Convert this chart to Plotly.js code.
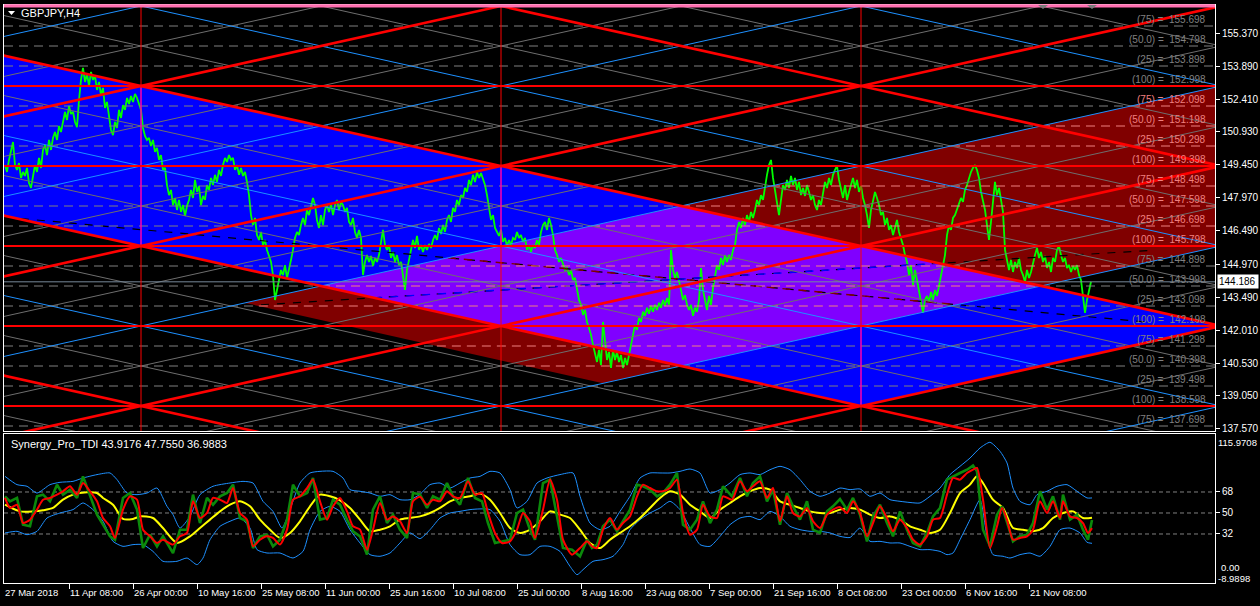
<!DOCTYPE html>
<html><head><meta charset="utf-8">
<script src="https://cdn.plot.ly/plotly-3.0.1.min.js"></script>
<style>html,body{margin:0;padding:0;background:#000;}#chart{width:1260px;height:606px;}</style>
</head><body><div id="chart"></div>
<script>
// ================= DATA =================
const symbolTitle = 'GBPJPY,H4';
const indicatorTitle = 'Synergy_Pro_TDI 43.9176 47.7550 36.9883';

const timeTickBars = [64,128,192,256,320,384,448,512,576,640,704,768,832,896,960,1024];
const timeFirstLabel = '27 Mar 2018';
const timeTickLabels = ['11 Apr 08:00','26 Apr 00:00','10 May 16:00','25 May 08:00','11 Jun 00:00','25 Jun 16:00','10 Jul 08:00','25 Jul 00:00','8 Aug 16:00','23 Aug 08:00','7 Sep 00:00','21 Sep 16:00','8 Oct 08:00','23 Oct 00:00','6 Nov 16:00','21 Nov 08:00'];

const priceTickVals = [137.570,139.050,140.530,142.010,143.490,144.970,146.490,147.970,149.450,150.930,152.410,153.890,155.370];
const bidPrice = 144.186;

// price path (one reading every 2 bars)
const priceStartBar = 0, priceStepBars = 2;
const priceClose = [
149.44,149.13,149.67,150.12,150.48,149.44,149.22,149.53,148.86,149.13,
148.95,149.31,148.63,148.41,148.95,149.44,149.13,149.76,149.31,150.12,
150.34,149.89,150.57,150.12,150.66,150.93,150.57,151.20,150.93,151.47,
151.83,151.47,152.10,151.74,151.83,151.38,151.15,152.37,153.27,153.81,
153.18,153.54,153.00,153.63,153.27,153.45,152.82,153.18,152.59,152.91,
152.01,152.28,151.56,151.02,150.79,151.38,151.11,151.92,151.56,152.14,
151.92,152.46,152.19,152.55,152.28,152.64,152.46,152.19,151.92,151.11,
150.75,150.57,150.66,150.30,150.57,150.03,150.21,149.67,149.89,149.22,
149.31,148.54,148.09,148.32,147.64,147.96,147.42,147.87,147.33,147.64,
147.15,147.60,147.87,148.32,147.96,148.77,148.23,148.50,147.64,148.05,
147.87,148.54,148.32,148.86,148.54,149.00,148.68,149.22,148.95,149.44,
149.76,149.58,149.89,149.67,149.76,149.22,149.44,149.00,149.31,148.95,
149.13,148.68,148.09,147.19,146.74,147.06,146.29,146.07,146.43,145.84,
146.07,145.62,145.39,145.08,144.49,143.37,143.82,144.27,144.72,144.49,
144.94,144.36,144.72,145.17,145.62,146.16,146.43,146.29,146.74,147.06,
146.74,147.42,147.19,147.64,147.96,147.64,146.97,146.61,147.19,146.74,
147.42,147.64,147.33,147.69,147.19,147.64,147.87,147.42,147.78,147.64,
147.33,147.51,146.88,146.74,147.06,146.43,146.16,146.52,146.16,144.49,
145.08,145.39,145.08,145.35,144.90,145.26,145.08,145.39,146.07,146.52,
145.84,145.62,145.84,145.26,145.53,145.08,145.39,144.94,145.08,144.49,
143.82,144.72,145.26,145.62,146.07,145.71,146.25,145.62,145.84,145.53,
145.84,145.62,145.89,145.71,146.07,146.29,146.07,146.61,146.34,146.74,
146.43,146.97,147.19,146.88,147.51,147.33,147.87,147.64,148.09,147.96,
148.41,148.23,148.77,148.54,149.00,148.68,149.13,148.86,149.08,148.77,
148.54,148.09,147.51,146.97,147.19,146.61,146.43,146.25,146.52,145.98,
146.16,145.80,146.07,145.84,146.16,146.07,146.43,146.16,146.29,145.98,
146.16,145.62,145.84,145.53,145.84,145.71,146.07,145.84,146.43,146.74,
146.88,146.52,147.06,146.74,146.29,145.62,145.39,145.08,145.26,144.94,
144.72,144.81,144.49,144.72,144.27,144.36,143.82,143.37,143.15,142.70,
142.92,142.38,142.11,141.80,141.35,140.89,140.58,141.12,140.44,142.38,
141.35,140.67,141.03,140.31,141.12,140.67,141.03,140.58,140.89,140.31,
140.76,140.44,140.89,141.35,141.80,142.25,142.02,142.56,142.38,142.84,
142.66,143.02,142.75,143.11,142.84,143.15,142.92,143.24,143.02,143.37,
143.11,143.46,143.15,145.62,144.72,144.36,144.63,144.13,143.82,143.37,
143.59,143.15,142.92,143.15,142.66,143.02,142.84,143.37,144.81,143.82,
143.37,142.92,143.55,143.15,143.91,144.49,144.94,144.72,145.26,144.94,
145.39,145.08,145.39,145.17,145.62,145.84,146.52,146.88,146.61,147.06,
146.74,147.19,146.88,147.33,147.06,147.42,147.87,147.64,148.09,147.87,
148.54,149.00,149.44,149.67,148.86,148.32,147.64,147.19,147.87,148.54,
148.32,148.77,148.41,148.95,148.54,148.86,148.32,148.68,148.09,148.41,
148.05,148.54,148.23,147.87,148.09,147.64,147.42,147.87,147.64,148.09,
148.68,148.41,148.86,148.54,149.00,149.22,149.40,148.77,148.32,147.96,
148.54,147.87,148.23,148.54,148.86,148.41,148.77,148.23,148.50,147.96,
147.64,147.19,146.61,147.42,147.87,148.23,147.96,147.64,147.19,147.33,
146.74,147.06,146.52,146.74,146.29,146.61,146.97,146.43,146.16,145.84,
145.39,145.08,144.49,144.94,144.04,144.72,144.27,143.82,143.37,142.79,
143.37,143.55,143.28,143.73,143.37,143.82,143.55,144.04,144.49,144.94,
145.39,146.29,146.74,146.52,147.06,147.19,147.42,147.64,147.96,147.78,
148.32,148.54,148.86,149.13,149.31,149.44,149.22,148.86,148.23,147.87,
147.42,146.74,146.07,146.88,147.87,148.68,148.09,148.41,147.87,147.33,
145.62,145.08,144.72,145.17,144.63,145.08,144.81,145.26,144.72,144.49,
144.18,144.72,144.36,144.63,145.08,145.39,145.71,145.26,145.53,145.08,
145.35,144.81,145.08,144.63,145.26,145.08,145.62,145.80,145.39,145.08,
145.26,144.81,144.94,144.63,144.90,144.72,144.94,144.49,144.27,143.59,
142.79,143.37,143.82,144.19];

// Gann levels (price, tag)
const levelPrices = [155.698,154.798,153.898,152.998,152.098,151.198,150.298,149.398,148.498,147.598,146.698,145.798,144.898,143.998,143.098,142.198,141.298,140.398,139.498,138.598,137.698];
const levelTags   = ['(75)','(50.0)','(25)','(100)','(75)','(50.0)','(25)','(100)','(75)','(50.0)','(25)','(100)','(75)','(50.0)','(25)','(100)','(75)','(50.0)','(25)','(100)','(75)'];

// Gann lattice (drawing object parameters)
const latticeAnchorBar = 136, latticeAnchorPrice = 152.998, latticeSlope = 0.01, latticeStep = 1.8;
const vertLineBars = [136, 496, 856];

// filled zones
const blueZoneBars = [-1, 1216, 856, -1];
const blueZonePrices = [154.368, 142.198, 138.598, 147.168];
const maroonZoneBars = [240, 1240, 1240, 598];
const maroonZonePrices = [143.238, 153.238, 146.038, 139.618];

// dashed trend lines (start bar, start price, end bar, end price)
const trendA = [0, 147.10, 1140, 142.38];
const trendB = [240, 143.11, 1145, 145.60];

// small markers at the top edge (bar positions)
const topMarkerBars = [1038, 1087];

// TDI indicator
const tdiRedBar = [0,5,12,18,25,32,38,45,52,58,65,72,78,85,92,98,105,110,118,125,132,138,145,152,158,168,175,182,188,195,202,208,215,222,228,235,242,248,255,262,268,275,282,288,295,302,308,315,322,328,335,342,348,355,362,368,375,382,388,395,402,408,415,422,428,435,442,448,455,463,470,477,483,490,497,505,512,518,525,530,538,545,552,558,567,575,582,587,592,598,605,612,618,625,632,638,645,652,658,665,672,678,685,692,698,705,712,718,727,735,742,748,755,762,768,775,782,788,795,802,808,815,822,828,835,842,848,855,862,868,875,882,888,895,902,908,915,922,928,935,942,948,955,962,968,972,978,985,992,997,1002,1008,1015,1022,1028,1035,1042,1048,1055,1058,1065,1072,1078,1083,1087];
const tdiRedVal = [62.9,54.3,57.1,41.4,44.3,52.9,61.4,62.9,65.7,68.6,72.9,65.7,75.7,68.6,60,45.7,38.6,28.6,52.9,64.3,61.4,35.7,30,24.3,27.1,22.9,30,32.9,60,45.7,50,62.9,61.4,58.6,71.4,50,44.3,21.4,27.1,30,28.6,22.9,35.7,61.4,64.3,71.4,78.6,60,44.3,55.7,62.9,51.4,38.6,35.7,18.6,35.7,58.6,44.3,47.1,42.9,32.9,60,64,57.1,61.4,60,68.6,64.3,62.9,77.1,65.7,67.1,50,32.9,24.3,25.7,35.7,50,42.9,28.6,52.9,78.6,61.4,27.1,14.3,20,25.7,21.4,20,35.7,45.7,35.7,41.4,47.1,64.3,74.3,71.4,68.6,68.6,71.4,78.6,50,31.4,35.7,57.1,47.1,45.7,64.3,61.4,77.1,68.6,72.9,77.1,62.9,71.4,42.9,64.3,50,47.1,54.3,42.9,37.1,48.6,52.9,55,50,60,50,30,41.4,55.7,45.7,34.3,44.3,37.1,27.1,22.9,30,44.3,45.7,65.7,80,78.6,84.3,87.1,88.6,61.4,20,38.6,54.3,44.3,27.1,28.6,30,35.7,60,50,60,45.7,60,47.1,45.7,41.4,32.9,37.0];
const tdiGreenVal = [64.3,60,62.9,40,38.6,64.3,65.7,60,74.3,65.7,70,62.9,81.4,64.3,48.6,40,30,27.1,62.9,67.1,52.9,20,31.4,21.4,30,15.7,35.7,35.7,65.7,41.4,62.9,57.1,64.3,67.1,74.3,45.7,42.9,20,30,31.4,21.4,27.1,44.3,74.3,64.3,67.1,80,44.3,45.7,61.4,57.1,44.3,34.3,30,14.3,52.9,64.3,41.4,48.6,35.7,28.6,67.1,66,54.3,64.3,61.4,75.7,64.3,57.1,80,62.9,60,41.4,24.3,25.7,27.1,50,52.9,35.7,27.1,75.7,78.6,47.1,20,18.6,12.9,27.1,20,22.9,38.6,44.3,34.3,42.9,52.9,74.3,72.9,70,64.3,67.1,74.3,84.3,40,35.7,44.3,60,41.4,52.9,72.9,64.3,80,64.3,75.7,81.4,60,70,40,67.1,55.7,44.3,60,35.7,32.9,51.4,55.7,62,52.9,62.9,48.6,25.7,47.1,57.1,41.4,30,51.4,35.7,24.3,21.4,32.9,47.1,54.3,78.6,81.4,84.3,87.1,90.6,85.7,35.7,21.4,48.6,55.7,41.4,25.7,30,31.4,41.4,68.6,52.9,64.3,44.3,65.7,44.3,48.6,35.7,27.1,43.9];
const tdiYellowBar = [0,15,28,38,48,58,68,82,92,98,108,118,128,135,148,158,172,185,195,205,215,225,235,245,255,265,275,285,295,305,315,325,335,345,355,365,375,385,395,405,415,425,435,445,455,465,475,485,495,505,515,525,535,545,555,565,575,585,595,605,615,625,635,645,655,665,675,685,695,705,715,725,735,745,755,765,775,785,795,805,815,825,835,845,855,865,875,885,895,905,915,925,935,945,955,965,972,978,988,998,1008,1018,1028,1038,1048,1058,1068,1078,1087];
const tdiYellowVal = [57.1,51.4,51.4,52.3,54.3,61.4,65.7,67.7,67.1,62.9,57.1,44.9,44.9,47.1,45.7,37.1,24.3,30,37.1,44.3,51.4,57.1,60,55.7,44.3,35.7,28.6,32.9,42.9,55.7,65.7,64.3,60.9,54.3,44.3,34.3,35.7,38.6,44.3,45.7,47.1,50,54.3,60,62.9,64.3,66.6,61.4,50,37.1,32.9,35.7,42.9,51.4,48.6,45.7,35.7,24.3,20,27.1,32.9,38.6,45.7,54.3,62.9,68.6,65.7,57.1,51.4,45.7,52.9,58.6,64.3,68.6,71.4,70,60,57.1,54.3,51.4,50,50,52.9,54.3,52.9,48.6,45.7,47.1,44.3,38.6,35.7,32.9,35.7,50,67.1,74.3,81.4,75.7,61.4,54.3,37.1,35.7,34.3,37.1,45.7,50,51.4,45.7,46];
const tdiUpperBar = [0,12,22,32,45,55,68,78,92,105,112,122,132,142,152,162,168,175,185,195,208,225,238,248,258,268,277,285,295,305,315,328,338,345,355,365,375,385,395,405,415,425,435,445,455,465,475,485,495,505,512,522,532,542,555,568,575,585,595,605,615,625,635,645,655,665,675,685,695,705,715,725,735,745,755,765,775,785,795,805,815,825,835,845,855,865,875,885,895,905,915,925,935,945,955,965,975,985,995,1002,1008,1015,1025,1032,1042,1052,1062,1072,1082,1087];
const tdiUpperVal = [81.4,74.3,72.9,67.1,74.3,76.3,77.1,80,82.9,84.3,78.6,67.1,65.7,67.1,71.4,55.7,48.6,37.1,47.1,65.7,72.9,75.7,77.1,75.7,60,51.4,37.1,52.9,75.7,84.3,85.7,85.7,80,70,68.6,67.1,64.3,65.7,61.4,61.4,66,74.3,75.7,71.4,75.7,80,81.4,85.7,84.3,70,54.3,60,75.7,80,82.9,84.3,64.3,41.4,35.7,38.6,51.4,64.3,80,84.3,84.3,84.3,85.7,87.7,84.3,67.1,70,75.7,82.9,84.3,82.9,87.1,90,87.1,78.6,68.6,64.3,67.1,71.4,70,70.6,64.3,67.1,61.4,60,59,58.6,64.3,71.4,82.9,90,97.1,105.7,110.6,102.9,92.9,71.4,60,57.1,65.7,68.6,72.9,74.3,68.6,62.9,62.9];
const tdiLowerBar = [0,12,22,32,42,55,68,78,88,98,108,118,128,138,148,158,172,182,192,198,205,215,225,235,245,252,262,275,288,298,305,315,325,335,345,355,365,375,385,395,405,415,425,435,445,455,465,475,485,495,505,515,525,535,545,555,565,572,578,588,598,608,618,625,635,645,655,665,675,685,695,705,715,725,735,745,755,765,775,785,795,805,815,825,835,845,855,865,875,885,895,905,915,925,935,942,948,955,965,975,982,988,998,1005,1015,1025,1035,1045,1055,1065,1075,1082,1087];
const tdiLowerVal = [32.9,34.3,31.4,34.3,45.7,50,52.9,58.6,52.9,42.9,25.7,21.4,22.9,22.9,17.1,8.6,8.6,11.4,5.7,11.4,27.1,38.6,42.9,45.7,37.1,18.6,15.7,15.7,11.4,17.1,35.7,51.4,55.7,51.4,35.7,24.3,14.3,12.9,15.7,24.3,32.9,28,35.7,45.7,50,51.4,52.9,53.5,52.9,42.9,22.9,14.3,14.3,21.4,21.4,17.1,4.3,-2.9,1.4,8.6,10,12.9,22.9,35.7,44.3,50,54.3,60,52.9,37.1,22.9,21.4,30,40,45.7,47.1,44.3,51.4,47.1,38.6,35.7,34.3,34.3,32.9,30,29,37.1,25.7,25.7,24.3,24.3,21.4,18.6,18.6,17.1,14.3,15.7,27.1,44.3,61.4,30,14.3,12.9,11.4,14.3,15.7,12.9,21.4,35.7,37.1,32.9,24.9,24];
const tdiLevels = [32, 50, 68];
const tdiMaxLabel = '115.9708', tdiZeroLabel = '0.00', tdiMinLabel = '-8.9898';

// ================= GEOMETRY / STYLE =================
const X_MIN = -1, X_MAX = 1210;
const Y_MIN = 137.473, Y_MAX = 156.643;
const PLOT_L = 4, PLOT_T = 5, PLOT_W = 1211, PLOT_H = 578;
const pX = px => (px - PLOT_L) / PLOT_W;
const pY = py => (PLOT_T + PLOT_H - py) / PLOT_H;

const FONT = 'Liberation Sans, Arial, sans-serif';
const GREY = '#808080', SALMON = '#F08080', RED = '#FF0000', DBLUE = '#1E90FF';

function hInterval(px, py, yv) {
  const xs = [];
  for (let i = 0; i < px.length; i++) {
    const j = (i + 1) % px.length;
    const y1 = py[i], y2 = py[j];
    if (y1 === y2) continue;
    if ((y1 - yv) * (y2 - yv) <= 0) xs.push(px[i] + (yv - y1) * (px[j] - px[i]) / (y2 - y1));
  }
  return xs.length >= 2 ? [Math.min(...xs), Math.max(...xs)] : null;
}
function vInterval(px, py, xv) {
  const ys = [];
  for (let i = 0; i < px.length; i++) {
    const j = (i + 1) % px.length;
    const x1 = px[i], x2 = px[j];
    if (x1 === x2) continue;
    if ((x1 - xv) * (x2 - xv) <= 0) ys.push(py[i] + (xv - x1) * (py[j] - py[i]) / (x2 - x1));
  }
  return ys.length >= 2 ? [Math.min(...ys), Math.max(...ys)] : null;
}
function cross(ax, ay, bx, by, cx, cy) { return (bx - ax) * (cy - ay) - (by - ay) * (cx - ax); }
function centroid(px, py) { return [px.reduce((a, b) => a + b, 0) / px.length, py.reduce((a, b) => a + b, 0) / py.length]; }
function inConvex(px, py, x, y) {
  let s = 0;
  for (let i = 0; i < px.length; i++) {
    const j = (i + 1) % px.length;
    const c = cross(px[i], py[i], px[j], py[j], x, y);
    if (c === 0) continue;
    if (s === 0) s = Math.sign(c); else if (Math.sign(c) !== s) return false;
  }
  return true;
}
function clipPoly(sx, sy, cx, cy) {
  let pts = sx.map((x, i) => [x, sy[i]]);
  const n = cx.length;
  const [mx, my] = centroid(cx, cy);
  for (let e = 0; e < n; e++) {
    const a = [cx[e], cy[e]], b = [cx[(e + 1) % n], cy[(e + 1) % n]];
    const ref = Math.sign(cross(a[0], a[1], b[0], b[1], mx, my));
    const ins = p => Math.sign(cross(a[0], a[1], b[0], b[1], p[0], p[1])) * ref >= 0;
    const inter = (p, q) => {
      const d1 = cross(a[0], a[1], b[0], b[1], p[0], p[1]);
      const d2 = cross(a[0], a[1], b[0], b[1], q[0], q[1]);
      const t = d1 / (d1 - d2);
      return [p[0] + t * (q[0] - p[0]), p[1] + t * (q[1] - p[1])];
    };
    const out = [];
    for (let i = 0; i < pts.length; i++) {
      const p = pts[i], q = pts[(i + 1) % pts.length];
      const pin = ins(p), qin = ins(q);
      if (pin && qin) out.push(q);
      else if (pin && !qin) out.push(inter(p, q));
      else if (!pin && qin) { out.push(inter(p, q)); out.push(q); }
    }
    pts = out;
    if (!pts.length) break;
  }
  return { x: pts.map(p => p[0]), y: pts.map(p => p[1]) };
}
function clipSeg(px, py, s) {
  const [mx, my] = centroid(px, py);
  let t0 = 0, t1 = 1;
  for (let i = 0; i < px.length; i++) {
    const j = (i + 1) % px.length;
    const ref = Math.sign(cross(px[i], py[i], px[j], py[j], mx, my));
    const f0 = cross(px[i], py[i], px[j], py[j], s[0], s[1]) * ref;
    const f1 = cross(px[i], py[i], px[j], py[j], s[2], s[3]) * ref;
    if (f0 < 0 && f1 < 0) return null;
    if (f0 < 0) t0 = Math.max(t0, f0 / (f0 - f1));
    else if (f1 < 0) t1 = Math.min(t1, f0 / (f0 - f1));
  }
  if (t0 >= t1) return null;
  return [s[0] + t0 * (s[2] - s[0]), s[1] + t0 * (s[3] - s[1]), s[0] + t1 * (s[2] - s[0]), s[1] + t1 * (s[3] - s[1])];
}
function segTrace(segs, color, width, dash, xa, ya) {
  const x = [], y = [];
  segs.forEach(s => { if (s) { x.push(s[0], s[2], null); y.push(s[1], s[3], null); } });
  return { type: 'scatter', mode: 'lines', x, y, xaxis: xa || 'x', yaxis: ya || 'y',
    line: { color, width, dash: dash || 'solid' }, hoverinfo: 'skip', connectgaps: false };
}
function fillTrace(x, y, color) {
  return { type: 'scatter', mode: 'lines', x: x.concat([x[0]]), y: y.concat([y[0]]), fill: 'toself',
    fillcolor: color, line: { width: 0, color }, hoverinfo: 'skip' };
}

const traces = [];
// zones
traces.push(fillTrace(blueZoneBars, blueZonePrices, '#0000FF'));
traces.push(fillTrace(maroonZoneBars, maroonZonePrices, '#800000'));
const purple = clipPoly(blueZoneBars, blueZonePrices, maroonZoneBars, maroonZonePrices);
if (purple.x.length) traces.push(fillTrace(purple.x, purple.y, '#8000FF'));

// price path
traces.push({ type: 'scatter', mode: 'lines', x: priceClose.map((_, i) => priceStartBar + i * priceStepBars),
  y: priceClose, line: { color: '#00FF00', width: 1.8 }, hoverinfo: 'skip' });

// dashed trend lines (XOR-like look inside the purple overlap)
traces.push(segTrace([trendA, trendB], '#000000', 1.2, '8px,8px'));
if (purple.x.length) {
  traces.push(segTrace([clipSeg(purple.x, purple.y, trendA)], '#800000', 1.4, '8px,8px'));
  traces.push(segTrace([clipSeg(purple.x, purple.y, trendB)], '#0000FF', 1.4, '8px,8px'));
}

// dashed levels
const greyDash = [], salmonDash = [], redH = [];
levelPrices.forEach((p, i) => {
  if (levelTags[i] === '(100)') { redH.push([X_MIN, p, X_MAX + 1, p]); return; }
  const iv = hInterval(maroonZoneBars, maroonZonePrices, p);
  if (!iv || iv[1] < X_MIN || iv[0] > X_MAX) { greyDash.push([X_MIN, p, X_MAX + 1, p]); return; }
  const a = Math.max(iv[0], X_MIN), b = Math.min(iv[1], X_MAX + 1);
  if (a > X_MIN) greyDash.push([X_MIN, p, a, p]);
  salmonDash.push([a, p, b, p]);
  if (b < X_MAX + 1) greyDash.push([b, p, X_MAX + 1, p]);
});
traces.push(segTrace(greyDash, GREY, 1, '9px,6px'));
traces.push(segTrace(salmonDash, SALMON, 1, '9px,6px'));

// lattice diagonals
const lat = { red: [], blue: [], grey: [] };
[-1, 1].forEach(dir => {
  for (let k = -16; k <= 16; k++) {
    const P = latticeAnchorPrice + k * latticeStep;
    const b0 = X_MIN - 1, b1 = X_MAX + 6;
    const y0 = P + dir * latticeSlope * (b0 - latticeAnchorBar);
    const y1 = P + dir * latticeSlope * (b1 - latticeAnchorBar);
    if (Math.max(y0, y1) < Y_MIN - 1 || Math.min(y0, y1) > Y_MAX + 1) continue;
    const m = ((k % 4) + 4) % 4;
    const key = m === 0 ? 'red' : (m === 2 ? 'blue' : 'grey');
    lat[key].push([b0, y0, b1, y1]);
  }
});
traces.push(segTrace(lat.grey, '#6e6e6e', 1));
traces.push(segTrace(lat.blue, DBLUE, 1));

// bid line
traces.push(segTrace([[X_MIN, bidPrice, X_MAX + 1, bidPrice]], '#778899', 1));

// verticals
traces.push(segTrace(vertLineBars.map(b => [b, Y_MIN - 1, b, Y_MAX + 1]), RED, 1));
const mag = [];
vertLineBars.forEach(b => {
  const bi = vInterval(blueZoneBars, blueZonePrices, b);
  if (!bi) return;
  const mi = vInterval(maroonZoneBars, maroonZonePrices, b);
  if (!mi) { mag.push([b, bi[0], b, bi[1]]); return; }
  if (mi[0] > bi[0]) mag.push([b, bi[0], b, Math.min(bi[1], mi[0])]);
  if (mi[1] < bi[1]) mag.push([b, Math.max(bi[0], mi[1]), b, bi[1]]);
});
traces.push(segTrace(mag, '#FF00FF', 1));

// red lines
traces.push(segTrace(redH, RED, 2.2));
traces.push(segTrace(lat.red, RED, 2.6));

// ---- indicator ----
traces.push(segTrace(tdiLevels.map(v => [X_MIN, v, X_MAX + 1, v]), GREY, 1, '4px,3px', 'x2', 'y2'));
traces.push({ type: 'scatter', mode: 'lines', x: tdiUpperBar, y: tdiUpperVal, xaxis: 'x2', yaxis: 'y2',
  line: { color: DBLUE, width: 1, shape: 'spline', smoothing: 0.6 }, hoverinfo: 'skip' });
traces.push({ type: 'scatter', mode: 'lines', x: tdiLowerBar, y: tdiLowerVal, xaxis: 'x2', yaxis: 'y2',
  line: { color: DBLUE, width: 1, shape: 'spline', smoothing: 0.6 }, hoverinfo: 'skip' });
traces.push({ type: 'scatter', mode: 'lines', x: tdiYellowBar, y: tdiYellowVal, xaxis: 'x2', yaxis: 'y2',
  line: { color: '#FFFF00', width: 2, shape: 'spline', smoothing: 0.7 }, hoverinfo: 'skip' });
traces.push({ type: 'scatter', mode: 'lines', x: tdiRedBar, y: tdiGreenVal, xaxis: 'x2', yaxis: 'y2',
  line: { color: '#0B8A0B', width: 2.6 }, hoverinfo: 'skip' });
traces.push({ type: 'scatter', mode: 'lines', x: tdiRedBar, y: tdiRedVal, xaxis: 'x2', yaxis: 'y2',
  line: { color: '#FF0000', width: 2, shape: 'spline', smoothing: 0.6 }, hoverinfo: 'skip' });

// ---- annotations ----
const ann = [];
ann.push({ xref: 'paper', yref: 'paper', x: pX(19), y: pY(13), xanchor: 'left', yanchor: 'middle', showarrow: false,
  text: symbolTitle, font: { family: FONT, size: 11, color: '#fff' } });
ann.push({ xref: 'paper', yref: 'paper', x: pX(9), y: pY(444), xanchor: 'left', yanchor: 'middle', showarrow: false,
  text: indicatorTitle, font: { family: FONT, size: 11, color: '#fff' } });
levelPrices.forEach((p, i) => {
  const inside = inConvex(maroonZoneBars, maroonZonePrices, 1170, p + 0.15);
  ann.push({ xref: 'x', yref: 'y', x: 1203, y: p, xanchor: 'right', yanchor: 'bottom', yshift: -1, showarrow: false,
    text: levelTags[i] + ' =  ' + p.toFixed(3), font: { family: FONT, size: 10, color: inside ? SALMON : GREY } });
});
ann.push({ xref: 'x', yref: 'paper', x: 0, y: pY(592), xanchor: 'left', yanchor: 'middle', xshift: -2, showarrow: false,
  text: timeFirstLabel, font: { family: FONT, size: 9.5, color: '#fff' } });
timeTickBars.forEach((b, i) => {
  ann.push({ xref: 'x', yref: 'paper', x: b, y: pY(592), xanchor: 'left', yanchor: 'middle', xshift: -1, showarrow: false,
    text: timeTickLabels[i], font: { family: FONT, size: 9.5, color: '#fff' } });
});
ann.push({ xref: 'paper', yref: 'y', x: pX(1217), y: bidPrice, xanchor: 'left', yanchor: 'middle', showarrow: false,
  text: bidPrice.toFixed(3), bgcolor: '#FFFFFF', borderpad: 1, width: 38, align: 'left',
  font: { family: FONT, size: 10, color: '#000' } });
ann.push({ xref: 'paper', yref: 'paper', x: pX(1216), y: pY(442), xanchor: 'left', yanchor: 'middle', showarrow: false,
  text: tdiMaxLabel, font: { family: FONT, size: 9.5, color: '#fff' } });
ann.push({ xref: 'paper', yref: 'paper', x: pX(1219), y: pY(567), xanchor: 'left', yanchor: 'middle', showarrow: false,
  text: tdiZeroLabel, font: { family: FONT, size: 9.5, color: '#fff' } });
ann.push({ xref: 'paper', yref: 'paper', x: pX(1216), y: pY(578), xanchor: 'left', yanchor: 'middle', showarrow: false,
  text: tdiMinLabel, font: { family: FONT, size: 9.5, color: '#fff' } });

const shapes = [
  { type: 'rect', xref: 'paper', yref: 'paper', x0: 0, x1: 1, y0: pY(7.5), y1: pY(4.2), fillcolor: '#FF6FB0', line: { width: 0 } },
  { type: 'path', xref: 'paper', yref: 'paper', path: `M ${pX(8)} ${pY(11)} L ${pX(15)} ${pY(11)} L ${pX(11.5)} ${pY(15)} Z`,
    fillcolor: '#fff', line: { width: 0 } }
];
topMarkerBars.forEach(b => {
  const cx = b + 5;
  shapes.push({ type: 'path', xref: 'paper', yref: 'paper',
    path: `M ${pX(cx - 5)} ${pY(5)} L ${pX(cx + 5)} ${pY(5)} L ${pX(cx)} ${pY(9)} Z`,
    fillcolor: '#7a7a7a', line: { width: 0 } });
});

const axBase = { showgrid: false, zeroline: false, showline: true, mirror: true, linecolor: '#fff', linewidth: 1 };
const layout = {
  width: 1260, height: 606, paper_bgcolor: '#000', plot_bgcolor: '#000',
  margin: { l: PLOT_L, r: 1260 - PLOT_L - PLOT_W, t: PLOT_T, b: 606 - PLOT_T - PLOT_H },
  showlegend: false, hovermode: false,
  font: { family: FONT, size: 10, color: '#fff' },
  xaxis: Object.assign({}, axBase, { domain: [0, 1], range: [X_MIN, X_MAX], anchor: 'y', showticklabels: false, ticks: '' }),
  yaxis: Object.assign({}, axBase, { domain: [(583 - 431) / PLOT_H, 1], range: [Y_MIN, Y_MAX], side: 'right', anchor: 'x',
    tickvals: priceTickVals, ticktext: priceTickVals.map(v => v.toFixed(3)), ticks: 'outside', ticklen: 4, tickcolor: '#fff',
    tickfont: { family: FONT, size: 10, color: '#fff' } }),
  xaxis2: Object.assign({}, axBase, { domain: [0, 1], anchor: 'y2', matches: 'x', tickvals: timeTickBars, ticks: 'outside',
    ticklen: 5, tickcolor: '#fff', showticklabels: false }),
  yaxis2: Object.assign({}, axBase, { domain: [0, (583 - 434) / PLOT_H], range: [-10, 117.7], side: 'right', anchor: 'x2',
    tickvals: tdiLevels, ticktext: tdiLevels.map(String), ticks: 'outside', ticklen: 4, tickcolor: '#fff',
    tickfont: { family: FONT, size: 10, color: '#fff' } }),
  annotations: ann, shapes
};
Plotly.newPlot('chart', traces, layout, { displayModeBar: false, staticPlot: true });
</script></body></html>
